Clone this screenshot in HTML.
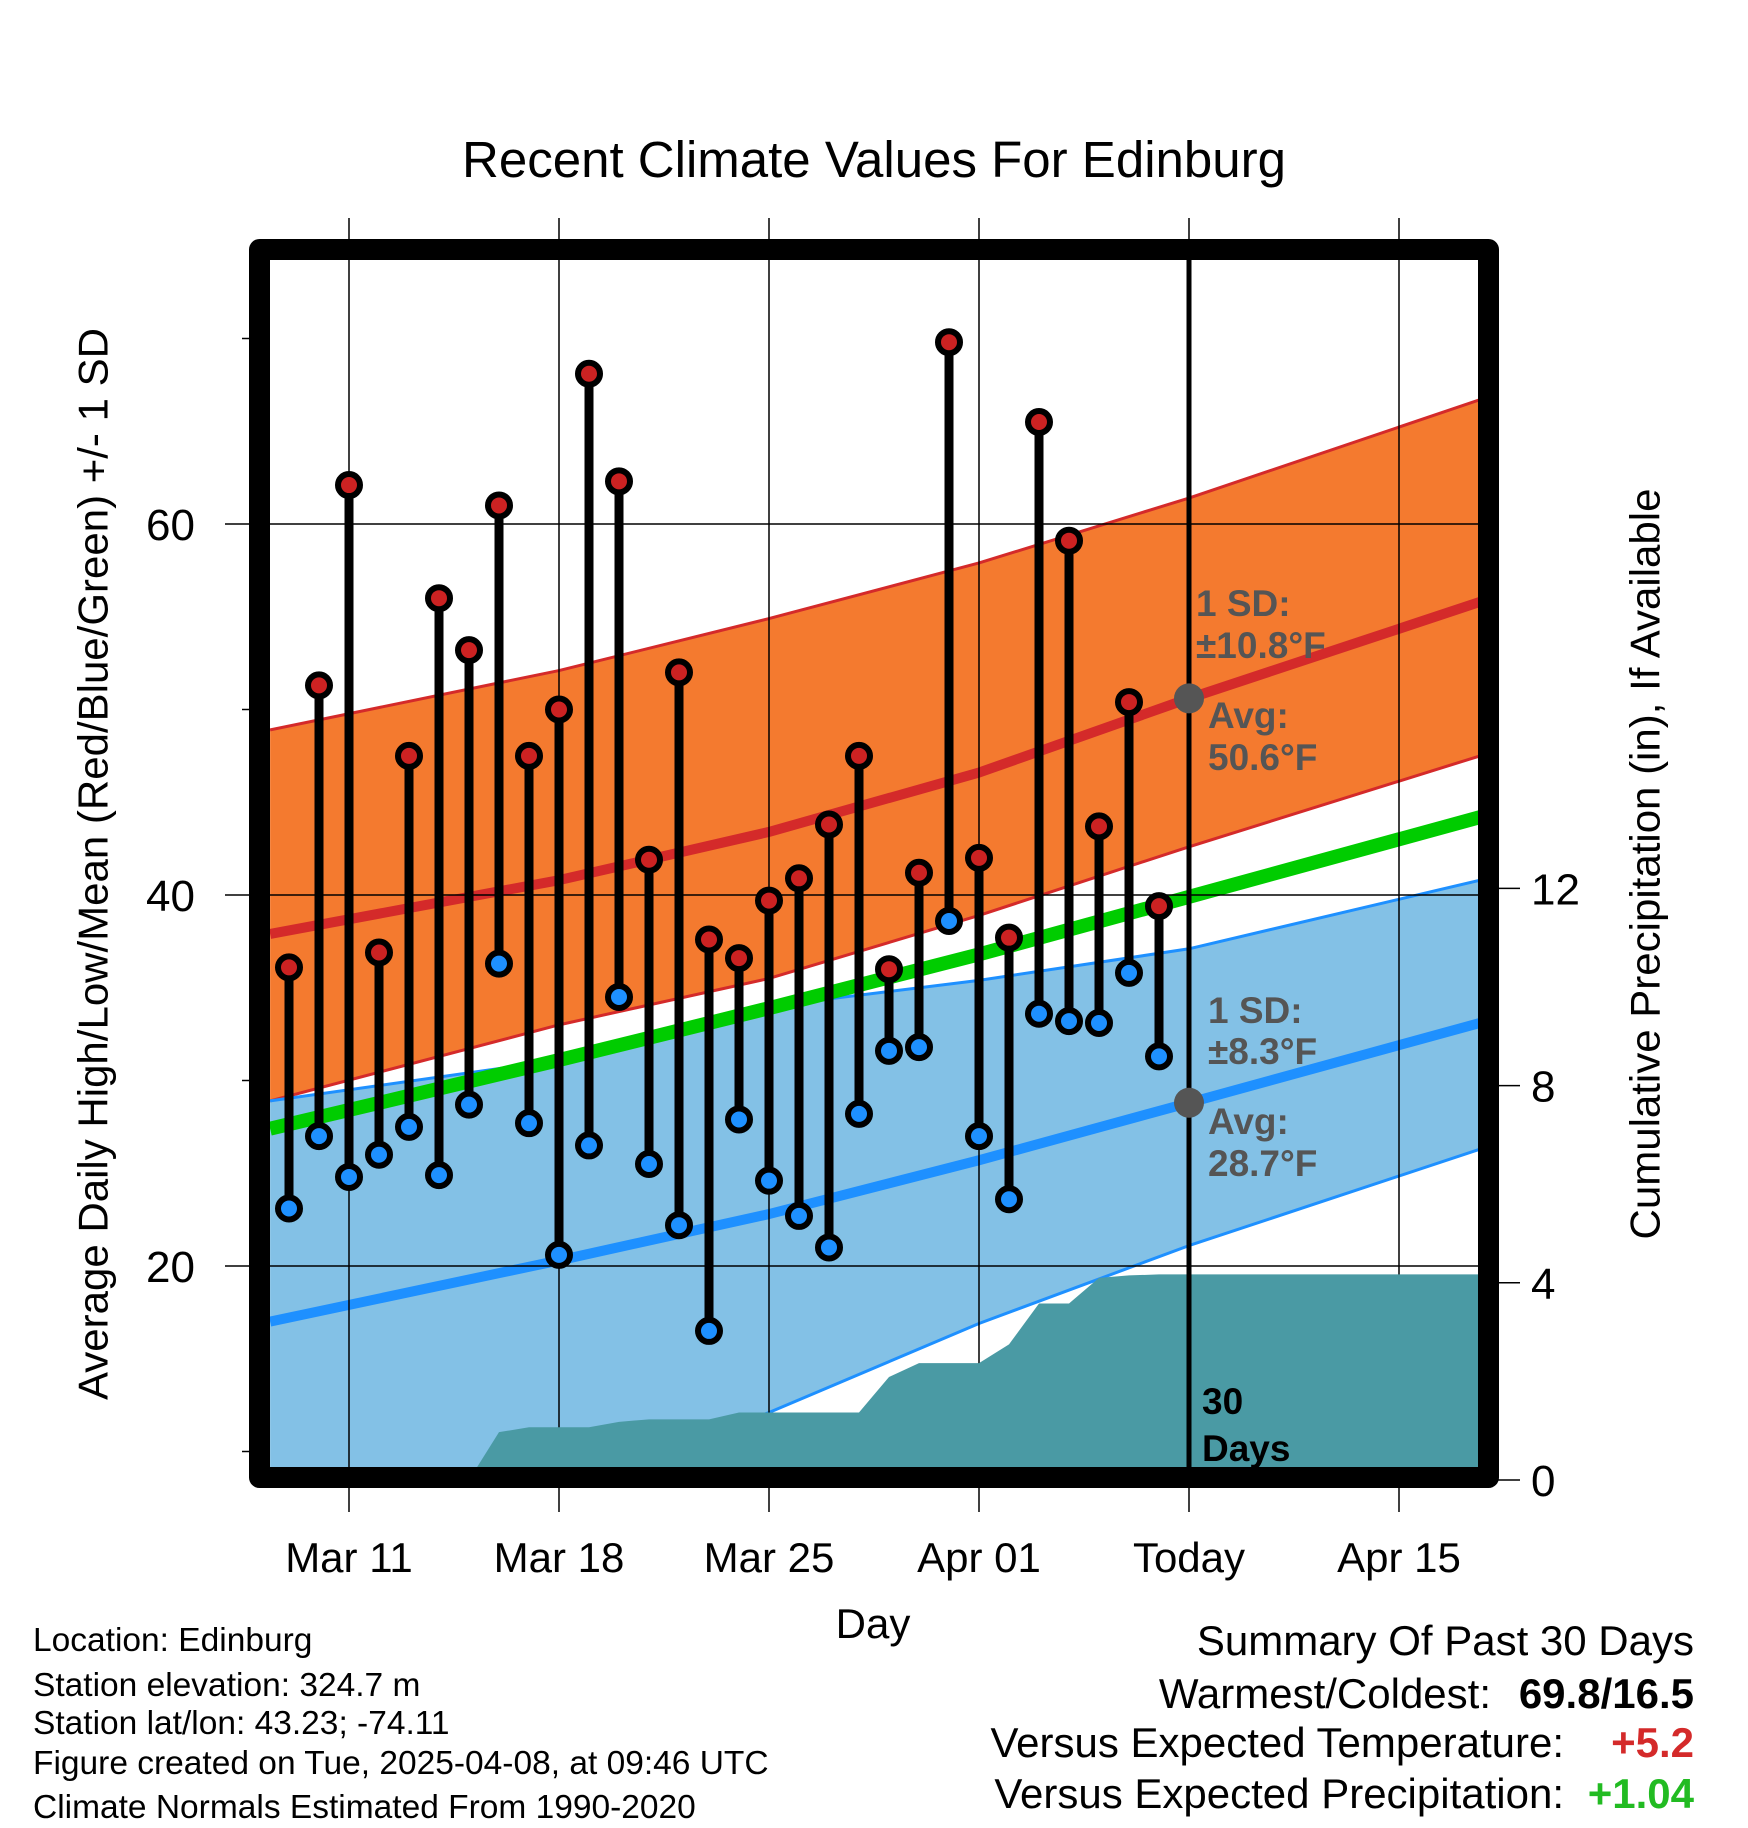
<!DOCTYPE html>
<html><head><meta charset="utf-8"><title>Recent Climate Values For Edinburg</title>
<style>
html,body{margin:0;padding:0;background:#fff;}
svg{display:block;font-family:"Liberation Sans",Arial,sans-serif;}
</style></head>
<body>
<svg id="chart" xmlns="http://www.w3.org/2000/svg" width="1748" height="1828" viewBox="0 0 1748 1828">
<defs><clipPath id="plotClip"><rect x="270" y="260" width="1210" height="1209"/></clipPath></defs>
<rect width="1748" height="1828" fill="#fff"/>
<text x="874" y="177" font-size="51" text-anchor="middle">Recent Climate Values For Edinburg</text>
<g id="plot" clip-path="url(#plotClip)"></g>
<g id="over"></g>
<text x="93" y="864" font-size="42" text-anchor="middle" dominant-baseline="central" transform="rotate(-90 93 864)">Average Daily High/Low/Mean (Red/Blue/Green) +/- 1 SD</text>
<text x="1645" y="864" font-size="42" text-anchor="middle" dominant-baseline="central" transform="rotate(-90 1645 864)">Cumulative Precipitation (in), If Available</text>
<text x="873" y="1638" font-size="42" text-anchor="middle">Day</text>
<g font-size="33.5">
<text x="33" y="1651">Location: Edinburg</text>
<text x="33" y="1696">Station elevation: 324.7 m</text>
<text x="33" y="1734">Station lat/lon: 43.23; -74.11</text>
<text x="33" y="1774">Figure created on Tue, 2025-04-08, at 09:46 UTC</text>
<text x="33" y="1818">Climate Normals Estimated From 1990-2020</text>
</g>
<g font-size="42">
<text x="1694" y="1655" text-anchor="end">Summary Of Past 30 Days</text>
<text x="1491" y="1708" text-anchor="end">Warmest/Coldest:</text>
<text x="1694" y="1708" text-anchor="end" font-weight="bold">69.8/16.5</text>
<text x="1564" y="1757" text-anchor="end">Versus Expected Temperature:</text>
<text x="1694" y="1757" text-anchor="end" font-weight="bold" fill="#d42a2a">+5.2</text>
<text x="1564" y="1808" text-anchor="end">Versus Expected Precipitation:</text>
<text x="1694" y="1808" text-anchor="end" font-weight="bold" fill="#22bb22">+1.04</text>
</g>
</svg>
<script>
// ---- data ----
const highs = [36.1,51.3,62.1,36.9,47.5,56.0,53.2,61.0,47.5,50.0,68.1,62.3,41.9,52.0,37.6,36.6,39.7,40.9,43.8,47.5,36.0,41.2,69.8,42.0,37.7,65.5,59.1,43.7,50.4,39.4];
const lows = [23.1,27.0,24.8,26.0,27.5,24.9,28.7,36.3,27.7,20.6,26.5,34.5,25.5,22.2,16.5,27.9,24.6,22.7,21.0,28.2,31.6,31.8,38.6,27.0,23.6,33.6,33.2,33.1,35.8,31.3];
const precipCum = [0,0,0,0,0,0,0,0.97,1.07,1.07,1.07,1.18,1.23,1.23,1.23,1.37,1.37,1.37,1.37,1.37,2.09,2.37,2.37,2.37,2.75,3.58,3.58,4.10,4.15,4.17];
const normDays = [-0.63,9,16,23,30,39.7];
const hiUpper = [48.9,52.1,54.9,57.9,61.4,66.7];
const hiMean = [37.9,40.8,43.4,46.6,50.6,55.8];
const hiLower = [28.9,33.0,35.5,38.9,42.6,47.5];
const loUpper = [28.9,31.1,34.0,35.4,37.1,40.8];
const loMean = [17.0,20.3,22.8,25.7,28.8,33.1];
const loLower = [4.5,8.0,12.1,16.9,21.1,26.3];
const meanLine = [27.4,31.1,33.9,36.8,39.9,44.2];
const xTickDays = [2,9,16,23,30,37];
const xTickLabels = ["Mar 11","Mar 18","Mar 25","Apr 01","Today","Apr 15"];
const yTicks = [20,40,60];
const yMinor = [10,30,50,70];
const pTicks = [0,4,8,12];
const todayDay = 30;
// ---- scales ----
const xS = d => 289 + 30*d;
const yS = v => 524 + (60 - v)*18.55;
const pS = p => 1480 - p*49.3;
const NS = "http://www.w3.org/2000/svg";
const plot = document.getElementById('plot');
const over = document.getElementById('over');
function mk(tag, attrs, parent){const e=document.createElementNS(NS,tag);for(const k in attrs)e.setAttribute(k,attrs[k]);parent.appendChild(e);return e;}
function pts(arr){return normDays.map((d,i)=>xS(d)+','+yS(arr[i])).join(' ');}
function band(up,lo){return normDays.map((d,i)=>xS(d)+','+yS(up[i])).concat(normDays.slice().reverse().map((d,j)=>{const i=normDays.length-1-j;return xS(d)+','+yS(lo[i]);})).join(' ');}

let e;
e = mk('polygon',{points:band(loUpper,loLower),fill:'#83c1e6'},plot);


e = mk('polygon',{points:band(hiUpper,hiLower),fill:'#f47a2f'},plot);


[[hiUpper,'#d42a2a',3],[hiLower,'#d42a2a',3],[loUpper,'#1e90ff',3],[loLower,'#1e90ff',3],[hiMean,'#d42a2a',10],[loMean,'#1e90ff',10],[meanLine,'#00cc00',14]].forEach((s,i)=>{
  const l = mk('polyline',{points:pts(s[0]),fill:'none',stroke:s[1],'stroke-width':s[2],'stroke-linejoin':'round'},plot);
  
  
});
// gridlines
xTickDays.forEach(d=>{
  const g = mk('line',{x1:xS(d),x2:xS(d),y1:218,y2:1512,stroke:'#000','stroke-width':1.5},over);
  
  
});
yTicks.forEach(v=>{
  const g = mk('line',{x1:225,x2:1480,y1:yS(v),y2:yS(v),stroke:'#000','stroke-width':1.5},over);
  
  
  const t = mk('text',{x:195,y:yS(v)+16,'font-size':44,'text-anchor':'end'},over);
  t.textContent = v;
  
  
});
yMinor.forEach(v=>{
  const g = mk('line',{x1:242,x2:252,y1:yS(v),y2:yS(v),stroke:'#000','stroke-width':1.5},over);
  
  
});
pTicks.forEach(p=>{
  const g = mk('line',{x1:1495,x2:1520,y1:pS(p),y2:pS(p),stroke:'#000','stroke-width':1.5},over);
  
  
  const t = mk('text',{x:1531,y:pS(p)+16,'font-size':44},over);
  t.textContent = p;
  
  
});
xTickDays.forEach((d,i)=>{
  const t = mk('text',{x:xS(d),y:1572,'font-size':42,'text-anchor':'middle'},over);
  t.textContent = xTickLabels[i];
  
  
});
// precipitation area
const pg = document.createElementNS(NS,'g'); pg.setAttribute('clip-path','url(#plotClip)'); over.appendChild(pg);
let pp = [];
precipCum.forEach((p,i)=>pp.push(xS(i)+','+pS(p)));
pp.push(xS(normDays[normDays.length-1]+1)+','+pS(precipCum[precipCum.length-1]));
pp.push(xS(normDays[normDays.length-1]+1)+','+pS(0)); pp.push(xS(0)+','+pS(0));
e = mk('polygon',{points:pp.join(' '),fill:'#4a9aa4'},pg);


// today line
e = mk('line',{x1:xS(todayDay),x2:xS(todayDay),y1:260,y2:1469,stroke:'#000','stroke-width':5},over);


// stems and markers
highs.forEach((h,i)=>{
  const s = mk('line',{x1:xS(i),x2:xS(i),y1:yS(h),y2:yS(lows[i]),stroke:'#000','stroke-width':9},over);
  
  
});
highs.forEach((h,i)=>{
  const c = mk('circle',{cx:xS(i),cy:yS(h),r:11,fill:'#cc2222',stroke:'#000','stroke-width':6},over);
  
  
  const c2 = mk('circle',{cx:xS(i),cy:yS(lows[i]),r:11,fill:'#1e90ff',stroke:'#000','stroke-width':6},over);
  
  
});
[[hiMean],[loMean]].forEach(a=>{
  const c = mk('circle',{cx:xS(todayDay),cy:yS(a[0][4]),r:15,fill:'#555'},over);
  
  
});
// annotations
[['1 SD:',1196,616],['±10.8°F',1196,658],['Avg:',1208,728],['50.6°F',1208,770],['1 SD:',1208,1023],['±8.3°F',1208,1064],['Avg:',1208,1134],['28.7°F',1208,1176]].forEach(a=>{
  const t = mk('text',{x:a[1],y:a[2],'font-size':37,'font-weight':'bold',fill:'#555'},over);
  t.textContent = a[0];
  
  
});
[['30',1202,1414],['Days',1202,1461]].forEach(a=>{
  const t = mk('text',{x:a[1],y:a[2],'font-size':37,'font-weight':'bold',fill:'#000'},over);
  t.textContent = a[0];
  
  
});
// frame
e = mk('rect',{x:259.5,y:249.5,width:1229,height:1228,fill:'none',stroke:'#000','stroke-width':21,'stroke-linejoin':'round'},over);


</script>
</body></html>
